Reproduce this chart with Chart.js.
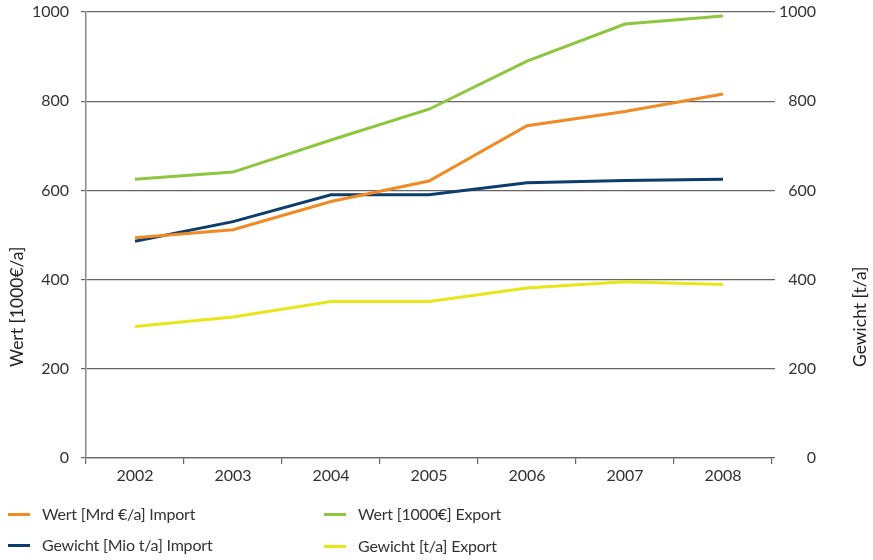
<!DOCTYPE html>
<html lang="de">
<head>
    <meta charset="UTF-8">
    <title>Import / Export</title>
    <style>
        body { margin: 0; background: #fff; }
        #wrap { position: relative; width: 873px; height: 560px; font-family: Lato, sans-serif; color: #333; }
        .key { position: absolute; font-size: 16px; line-height: 20px; white-space: nowrap; letter-spacing: -0.2px; }
        .key span { display: inline-block; width: 22px; height: 3px; vertical-align: middle; margin-right: 12px; position: relative; top: -1px; }
    </style>
    <script src="https://cdn.jsdelivr.net/npm/chart.js"></script>
</head>
<body>
<div id="wrap">
    <canvas id="chart" width="873" height="560"></canvas>
    <div class="key" style="left:8px; top:504px;"><span style="background:#f08a24"></span>Wert [Mrd €/a] Import</div>
    <div class="key" style="left:8px; top:535px;"><span style="background:#0c3d6c"></span>Gewicht [Mio t/a] Import</div>
    <div class="key" style="left:324px; top:504px;"><span style="background:#8dc63f"></span>Wert [1000€] Export</div>
    <div class="key" style="left:324px; top:536px;"><span style="background:#e6e619"></span>Gewicht [t/a] Export</div>
</div>
<script>
    // Jahre und Werte
    const years = ['2002', '2003', '2004', '2005', '2006', '2007', '2008'];
    const wertImport = [494, 512, 575, 621, 745, 777, 816];
    const gewichtImport = [486, 530, 590, 590, 617, 622, 625];
    const wertExport = [625, 641, 713, 782, 890, 973, 991];
    const gewichtExport = [295, 316, 351, 351, 381, 395, 389];

    const font = { family: 'Lato, sans-serif', size: 16 };

    // Achsentitel, unten bündig bei y = 367
    const axisTitles = {
        id: 'axisTitles',
        afterDraw(chart) {
            const ctx = chart.ctx;
            const titles = [['Wert [1000€/a]', 17], ['Gewicht [t/a]', 860]];
            titles.forEach(([text, x]) => {
                ctx.save();
                ctx.font = '17.5px Lato, sans-serif';
                ctx.fillStyle = '#222';
                ctx.textAlign = 'left';
                ctx.textBaseline = 'middle';
                ctx.translate(x, 367);
                ctx.rotate(-Math.PI / 2);
                ctx.fillText(text, 0, 0);
                ctx.restore();
            });
        }
    };

    function line(label, data, color, axis) {
        return {
            label: label,
            data: data,
            borderColor: color,
            borderWidth: 3,
            pointRadius: 0,
            tension: 0,
            fill: false,
            yAxisID: axis
        };
    }

    function noPad(scale) {
        scale.paddingTop = 0;
        scale.paddingBottom = 0;
    }

    new Chart(document.getElementById('chart'), {
        type: 'line',
        data: {
            labels: years,
            datasets: [
                line('Wert [1000€] Export', wertExport, '#8dc63f', 'y'),
                line('Wert [Mrd €/a] Import', wertImport, '#f08a24', 'y'),
                line('Gewicht [Mio t/a] Import', gewichtImport, '#0c3d6c', 'y1'),
                line('Gewicht [t/a] Export', gewichtExport, '#e6e619', 'y1')
            ]
        },
        options: {
            responsive: false,
            animation: false,
            layout: { padding: { top: 12, left: 0, right: 57, bottom: 0 } },
            plugins: {
                legend: { display: false },
                tooltip: { enabled: false }
            },
            scales: {
                x: {
                    offset: true,
                    grid: { offset: true, drawOnChartArea: false, drawTicks: true, tickLength: 6, color: '#666', lineWidth: 1.2 },
                    border: { color: '#666', width: 1.2 },
                    ticks: { color: '#333', font: font, padding: 2 },
                    afterFit(scale) { scale.height = 102; }
                },
                y: {
                    position: 'left',
                    min: 0,
                    max: 1000,
                    ticks: { stepSize: 200, color: '#333', font: font, padding: 12, callback: v => String(v) },
                    grid: { color: '#666', lineWidth: 1.2, tickLength: 5 },
                    border: { color: '#8a8a8a', width: 1.5 },
                    afterFit(scale) { scale.width = 86; noPad(scale); }
                },
                y1: {
                    position: 'right',
                    min: 0,
                    max: 1000,
                    ticks: { stepSize: 200, color: '#333', font: font, padding: 4, crossAlign: 'far', callback: v => String(v) },
                    grid: { drawOnChartArea: false, color: '#666', lineWidth: 1.2, tickLength: 3 },
                    border: { display: false },
                    afterFit(scale) { scale.width = 44; noPad(scale); }
                }
            }
        },
        plugins: [axisTitles]
    });
</script>
</body>
</html>
